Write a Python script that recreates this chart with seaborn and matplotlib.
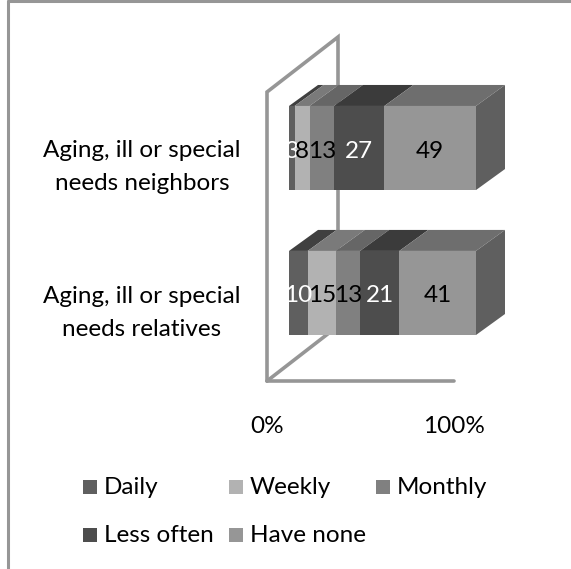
import seaborn as sns
import matplotlib.pyplot as plt
import matplotlib.transforms as mtrans
from matplotlib.lines import Line2D
from matplotlib.patches import Polygon, Rectangle
import pandas as pd

categories = ["Aging, ill or special\nneeds neighbors", "Aging, ill or special\nneeds relatives"]
series = ["Daily", "Weekly", "Monthly", "Less often", "Have none"]
neighbors = [3, 8, 13, 27, 49]
relatives = [10, 15, 13, 21, 41]
front_colors = ["#5f5f5f", "#b2b2b2", "#808080", "#4d4d4d", "#969696"]
top_colors = ["#404040", "#7a7a7a", "#666666", "#3b3b3b", "#6e6e6e"]
label_colors = ["white", "black", "black", "white", "black"]
side_color = "#5f5f5f"
wall_color = "#969696"

W, H = 571, 569
BAR_SHIFT = (22, 17)
DEPTH = (29, 21)
WALL = (71, 55)
FS = 17.5

sns.set_theme(style="white")
plt.rcParams["font.family"] = ["Lato", "DejaVu Sans"]

rows = []
for cat, vals in zip(categories, [neighbors, relatives]):
    for name, v in zip(series, vals):
        rows.append({"category": cat, "series": name, "value": v})
df = pd.DataFrame(rows)

fig = plt.figure(figsize=(W / 100, H / 100), dpi=100)
# pixel box of the plot: 0-100% on the front floor line
ax = fig.add_axes([267 / W, 1 - 381 / H, 187 / W, (381 - 76) / H])
ax.patch.set_alpha(0)

shift = ax.transData + mtrans.Affine2D().translate(*BAR_SHIFT)
shift_back = ax.transData + mtrans.Affine2D().translate(BAR_SHIFT[0] + DEPTH[0], BAR_SHIFT[1] + DEPTH[1])
shift_text = ax.transData + mtrans.Affine2D().translate(BAR_SHIFT[0], BAR_SHIFT[1] - 3)

# stacked bars, one seaborn call per series
left = {c: 0 for c in categories}
bar_h = 0.58
for name, col in zip(series, front_colors):
    part = df[df["series"] == name]
    sns.barplot(data=part, x="value", y="category", order=categories, orient="h",
                left=[left[c] for c in part["category"]], color=col, width=bar_h,
                saturation=1, ax=ax, zorder=3, linewidth=0)
    for c, v in zip(part["category"], part["value"]):
        left[c] += v

ax.set_xlim(0, 100)
ax.set_ylim(1.49, -0.614)
for p in ax.patches:
    p.set_transform(shift)
    p.set_clip_on(False)

# 3d faces worked out from the bars
for i, vals in enumerate([neighbors, relatives]):
    start = 0
    top_y = i - bar_h / 2
    low_y = i + bar_h / 2
    for v, col, lc in zip(vals, top_colors, label_colors):
        x0, x1 = start, start + v
        a = shift.transform([(x0, top_y), (x1, top_y)])
        b = shift_back.transform([(x1, top_y), (x0, top_y)])
        fig.add_artist(Polygon([*a, *b], closed=True, transform=None, fc=col, ec="none", zorder=2))
        ax.text((x0 + x1) / 2, i, str(v), transform=shift_text, ha="center", va="center",
                color=lc, fontsize=FS, zorder=5, clip_on=False)
        start = x1
    a = shift.transform([(100, top_y), (100, low_y)])
    b = shift_back.transform([(100, low_y), (100, top_y)])
    fig.add_artist(Polygon([*a, *b], closed=True, transform=None, fc=side_color, ec="none", zorder=2))

ax.axis("off")
ax.set_zorder(3)

# back wall and floor drawn as a thin outline in pixels
o = ax.transData.transform((0, 1.49))
end = ax.transData.transform((100, 1.49))
top = o[1] + 289
line_kw = dict(color=wall_color, lw=2.6, transform=None, zorder=1, solid_joinstyle="miter")
fig.add_artist(Line2D([o[0], o[0], o[0] + WALL[0], o[0] + WALL[0]],
                      [o[1], top, top + WALL[1], o[1] + WALL[1]], **line_kw))
fig.add_artist(Line2D([o[0], o[0] + WALL[0]], [o[1], o[1] + WALL[1]], **line_kw))
fig.add_artist(Line2D([o[0], end[0]], [o[1], o[1]], **line_kw))

# 0% / 100% labels
for x, s in [(0, "0%"), (100, "100%")]:
    ax.annotate(s, xy=(x, 1.49), xycoords="data", xytext=(0, -45), textcoords="offset pixels",
                ha="center", va="center", fontsize=FS, color="black", annotation_clip=False)

# category labels
for i, c in enumerate(categories):
    ax.annotate(c, xy=(0, i), xycoords="data", xytext=(-125, -2 - i), textcoords="offset pixels",
                ha="center", va="center", fontsize=FS, color="black", linespacing=1.66,
                annotation_clip=False)

# legend placed by hand, grid of swatch + text
legend_pos = [(83, 487), (229, 487), (376, 487), (83, 535), (229, 535)]
for (x, y), name, col in zip(legend_pos, series, front_colors):
    fig.add_artist(Rectangle((x / W, 1 - (y + 7) / H), 14 / W, 14 / H, transform=fig.transFigure,
                             fc=col, ec="none"))
    fig.text((x + 21) / W, 1 - y / H, name, ha="left", va="center", fontsize=FS, color="black")

# chart border, left and top only
border = dict(color=wall_color, lw=2.2, transform=fig.transFigure)
fig.add_artist(Line2D([8 / W, 8 / W], [0, 1 - 1 / H], **border))
fig.add_artist(Line2D([8 / W, 1], [1 - 1 / H, 1 - 1 / H], **border))

fig.savefig("out.png", dpi=100)
